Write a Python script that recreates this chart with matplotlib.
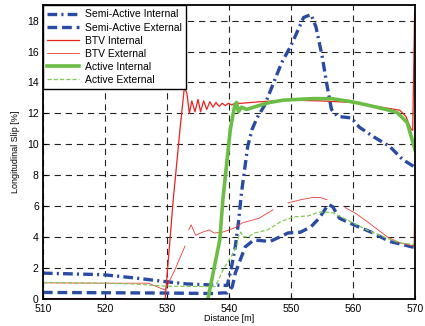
import numpy as np
import matplotlib
matplotlib.use("Agg")
import matplotlib.pyplot as plt

nan = np.nan

# Semi-Active Internal (dash-dot)
sa_int_x = [510, 519.7, 524.5, 529.8, 533.2, 537.4, 539.7, 540.4, 541.0, 541.5, 542.0, 542.5,
            543.0, 543.7, 544.5, 545.7, 547.0, 548.5, 550.0, 551.0, 552.0, 553.2, 554.0,
            555.0, 555.7, 556.5, 557.5, 559.7, 561.0, 563.2, 565.9, 568.0, 570.0]
sa_int_y = [1.65, 1.55, 1.35, 1.1, 0.95, 0.88, 0.85, 2.05, 3.35, 4.9, 6.85, 8.35,
            9.85, 10.95, 11.7, 12.5, 13.8, 15.3, 16.4, 17.3, 18.2, 18.4, 17.6,
            15.7, 14.0, 12.25, 11.8, 11.7, 11.1, 10.5, 9.85, 9.0, 8.5]

# Semi-Active External (dashed)
sa_ext_x = [510, 520, 530, 537.5, 539.0, 539.7, 540.5, 541.0, 541.8, 542.6, 544.0, 546.6,
            548.2, 549.5, 551.5, 553.2, 554.5, 556.0, 556.7, 557.8, 560.0, 563.2, 565.9, 570.0]
sa_ext_y = [0.4, 0.38, 0.36, 0.33, 0.37, 0.37, 0.75, 1.65, 2.5, 3.35, 3.8, 3.7,
            4.0, 4.25, 4.3, 4.65, 5.2, 6.1, 5.95, 5.2, 4.8, 4.25, 3.7, 3.3]

# BTV Internal (red solid)
btv_int_x = [510, 523, nan, 529.7, 531.0, 532.1, 532.8, 533.2, 533.6, 534.0, 534.5, 535.0,
             535.4, 535.9, 536.4, 536.9, 537.4, 537.9, 538.4, 538.9, 539.4, 539.9, 540.4,
             541.0, 542.0, 545.0, 550.0, 555.0, 560.0, 563.0, 566.0, 567.5, 568.5, 569.3,
             569.6, 569.9]
btv_int_y = [0.0, 0.0, nan, 0.0, 6.4, 11.0, 13.7, 13.3, 12.0, 12.8, 12.1, 12.9,
             12.1, 12.8, 12.25, 12.75, 12.4, 12.7, 12.45, 12.65, 12.5, 12.65, 12.55,
             12.65, 12.65, 12.75, 12.85, 12.8, 12.7, 12.5, 12.3, 12.2, 11.8, 11.0,
             10.9, 18.5]

# BTV External (thin red)
btv_ext_x = [510, 519, 527, 529.7, 531.3, 532.9, nan, 533.5, 533.9, 534.6, 535.7, 536.8,
             537.6, 538.9, 540.0, 541.0, 542.1, 543.0, 544.8, 547.1, nan, 549.5, 551.5,
             553.5, 554.7, 555.8, nan, 558.7, 560.5, 562.2, 565.5, 567.6, 569.8, 569.9]
btv_ext_y = [1.02, 1.0, 1.0, 0.55, 1.9, 3.4, nan, 4.45, 4.77, 4.1, 4.3, 4.45,
             4.25, 4.3, 4.45, 4.6, 4.9, 5.0, 5.2, 5.75, nan, 6.2, 6.4, 6.55, 6.55, 6.4, nan,
             5.9, 5.5, 5.0, 4.0, 3.6, 3.4, 6.1]

# Active Internal (thick green)
act_int_x = [536.5, 537.5, 538.5, 539.0, 540.2, 540.9, 541.2, 541.5, 542.0, 542.8, 544.4,
             546.5, 548.7, 551.0, 553.5, 556.5, 559.0, 561.0, 563.2, 565.3, 567.1, 568.7,
             570.0]
act_int_y = [-0.2, 1.8, 3.8, 6.4, 10.95, 12.5, 12.7, 12.1, 12.4, 12.25, 12.45,
             12.7, 12.85, 12.9, 12.95, 12.95, 12.8, 12.65, 12.45, 12.25, 12.05, 11.4,
             9.6]

# Active External (thin green dashed)
act_ext_x = [510, 520, 524.5, 530, 537.7, 538.3, 539.0, 540.3, 541.3, 541.6, 541.9, 542.3,
             543.1, 544.1, 546.2, 548.4, 550.5, 552.7, 554.5, 555.8, 556.8, 559.0, 562.2,
             565.5, 567.6, 570.0]
act_ext_y = [1.05, 1.0, 0.95, 0.8, 0.78, 1.2, 1.85, 2.7, 3.5, 4.1, 4.3, 4.0,
             4.0, 4.25, 4.45, 5.0, 5.3, 5.35, 5.6, 5.6, 5.55, 5.1, 4.45,
             3.9, 3.6, 3.5]

x_ticks = [510, 520, 530, 540, 550, 560, 570]
y_ticks = [0, 2, 4, 6, 8, 10, 12, 14, 16, 18]

plt.rcParams['font.family'] = ['Liberation Sans', 'DejaVu Sans']
plt.rcParams['lines.scale_dashes'] = False

fig = plt.figure(figsize=(4.25, 3.26), dpi=100)
ax = fig.add_axes([0.101, 0.084, 0.876, 0.9])

blue = '#2a4ba3'
ax.plot(sa_int_x, sa_int_y, color=blue, lw=2.4, dashes=(7, 3, 1.5, 3),
        label='Semi-Active Internal')
ax.plot(sa_ext_x, sa_ext_y, color=blue, lw=2.4, dashes=(7, 3.5),
        label='Semi-Active External')
ax.plot(btv_int_x, btv_int_y, color='#e8231f', lw=0.9, label='BTV Internal')
ax.plot(btv_ext_x, btv_ext_y, color='#ee3b36', lw=0.6, label='BTV External')
ax.plot(act_int_x, act_int_y, color='#6cbd45', lw=2.6, label='Active Internal')
ax.plot(act_ext_x, act_ext_y, color='#7fcc55', lw=0.9, dashes=(3, 1.5),
        label='Active External')

ax.set_xlim(510, 570)
ax.set_ylim(0, 19)
ax.set_xticks(x_ticks)
ax.set_yticks(y_ticks)
ax.tick_params(direction='in', labelsize=7.5, length=3, width=0.8)
ax.tick_params(axis='x', pad=4)
ax.tick_params(axis='y', pad=3)
ax.grid(True, color='#222222', lw=0.8, dashes=(4.5, 3.5))
for s in ax.spines.values():
    s.set_linewidth(1.3)

ax.set_xlabel('Distance [m]', fontsize=6.5, labelpad=0)
ax.set_ylabel('Longitudinal Slip [%]', fontsize=6.5, labelpad=5)

leg = ax.legend(loc='upper left', fontsize=7.5, fancybox=False, framealpha=1,
                edgecolor='black', borderaxespad=0, handlelength=3.1,
                handletextpad=0.5, labelspacing=0.3, borderpad=0.4)
leg.get_frame().set_linewidth(1.0)

fig.savefig('out.png', dpi=100)
